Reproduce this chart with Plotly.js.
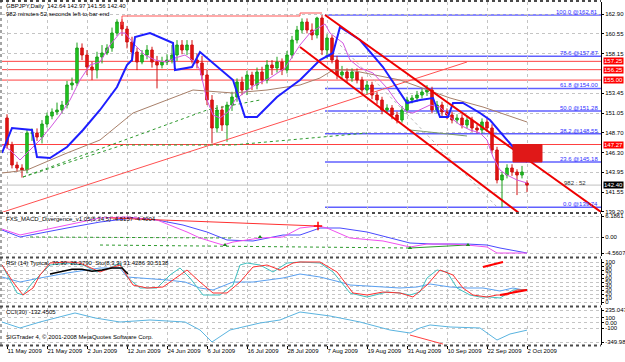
<!DOCTYPE html>
<html><head><meta charset="utf-8">
<script src="https://cdn.plot.ly/plotly-3.0.1.min.js"></script>
<style>html,body{margin:0;padding:0;background:#fff;}#chart{width:625px;height:362px;}</style>
</head><body><div id="chart"></div>
<script>
// ---------- DATA ----------
const dateLabels = ['11 May 2009','21 May 2009','2 Jun 2009','12 Jun 2009','24 Jun 2009','6 Jul 2009','16 Jul 2009','28 Jul 2009','7 Aug 2009','19 Aug 2009','31 Aug 2009','10 Sep 2009','22 Sep 2009','2 Oct 2009'];
const labelBars = [0,8,16,24,32,40,48,56,64,72,80,88,96,104];

const open = [150.45,147.21,144.81,144.45,144.21,148.65,148.65,148.17,149.73,150.69,
151.17,151.41,152.01,154.41,154.65,158.85,158.01,156.57,156.21,157.77,
158.25,158.85,160.65,161.97,161.13,159.57,158.37,157.17,158.01,158.61,
157.17,156.81,157.17,157.41,158.01,159.21,158.61,159.21,157.41,157.05,
155.61,152.61,149.25,151.41,149.61,152.01,152.97,154.77,153.81,155.61,
154.41,155.97,155.01,156.81,156.45,157.17,156.21,158.01,159.81,161.01,
161.97,161.01,160.41,162.45,158.61,160.05,157.41,155.61,155.97,155.25,
155.97,155.01,153.81,154.41,153.21,152.61,151.41,151.65,150.81,150.21,
151.41,152.61,152.85,153.21,153.57,153.81,151.41,152.01,151.17,150.81,
150.21,150.45,149.61,150.21,149.25,149.01,149.97,149.25,146.61,143.01,
143.61,144.45,143.97,143.61,142.64];
const high = [150.9,147.6,145.2,144.9,149.1,149.2,149.2,150.2,151.1,151.6,
152.3,152.5,154.9,155.3,159.5,159.4,158.6,157.2,158.4,159.2,
159.3,161.3,162.3,162.3,161.5,160.2,158.9,158.6,159.2,159.0,
157.9,157.8,158.1,159.2,159.8,159.8,159.8,159.8,158.2,157.9,
156.2,153.2,152.0,151.9,152.4,153.6,155.2,155.4,156.1,156.0,
156.5,156.6,157.4,157.4,157.8,157.6,158.5,160.3,161.5,162.4,
162.4,161.8,162.6,162.81,160.5,160.4,157.9,156.7,156.4,156.4,
156.4,155.4,154.9,154.8,153.6,153.0,152.1,152.0,151.2,151.9,
153.0,153.2,153.7,154.0,154.4,154.2,152.5,152.4,151.6,151.2,
150.9,150.9,150.6,150.6,149.7,150.4,150.4,149.7,147.0,144.0,
144.9,144.9,144.3,144.7,142.97];
const low = [146.8,144.4,144.0,143.3,143.8,147.7,147.7,147.4,149.3,150.3,
150.8,151.0,151.6,153.8,154.3,157.4,155.6,155.0,155.2,157.0,
158.0,158.4,160.3,160.3,158.8,157.2,156.2,156.9,157.5,156.5,
154.0,156.4,156.8,157.0,157.3,158.1,158.0,157.0,156.4,155.0,
152.0,147.4,148.7,148.9,147.6,151.3,152.4,153.2,153.2,153.8,
153.9,154.5,154.6,155.6,155.9,155.6,155.8,157.6,159.4,160.6,
160.6,159.8,160.0,158.0,157.6,157.0,155.1,155.2,154.7,154.8,
154.6,153.3,153.3,152.7,152.1,150.9,151.0,150.3,149.8,149.9,
151.0,152.2,152.4,152.8,153.1,151.0,151.0,150.7,150.3,149.8,
149.8,149.2,149.2,148.8,148.6,148.6,148.8,146.2,142.6,139.74,
143.2,143.5,141.2,143.2,141.56];
const close = [147.21,144.81,144.45,144.21,148.65,148.65,148.17,149.73,150.69,151.17,
151.41,152.01,154.41,154.65,158.85,158.01,156.57,156.21,157.77,158.25,
158.85,160.65,161.97,161.13,159.57,158.37,157.17,158.01,158.61,157.17,
156.81,157.17,157.41,158.01,159.21,158.61,159.21,157.41,157.05,155.61,
152.61,149.25,151.41,149.61,152.01,152.97,154.77,153.81,155.61,154.41,
155.97,155.01,156.81,156.45,157.17,156.21,158.01,159.81,161.01,161.97,
161.01,160.41,162.45,158.61,160.05,157.41,155.61,155.97,155.25,155.97,
155.01,153.81,154.41,153.21,152.61,151.41,151.65,150.81,150.21,151.41,
152.61,152.85,153.21,153.57,153.81,151.41,152.01,151.17,150.81,150.21,
150.45,149.61,150.21,149.25,149.01,149.97,149.25,146.61,143.01,143.61,
144.45,143.97,143.61,143.97,142.40];

// blue thick indicator line (bar, price)
const blueX = [-1,1,5,6,8.6,12,15.2,18.6,22,24,25,25.6,28.6,32,33.2,33.6,37,38.6,45.2,47.6,50,54,58.6,62.6,65.2,66.6,70.6,75.2,80,82.6,85.2,86.6,88.2,89.2,91.2,94.6,96.6,101.2,104];
const blueY = [146.25,149.25,149.01,145.77,145.65,146.97,149.01,151.41,154.17,156.81,157.41,160.17,160.65,159.81,159.45,156.21,156.57,158.37,155.01,150.57,150.57,152.97,155.01,157.41,158.25,161.37,159.81,156.57,152.25,152.61,152.85,150.57,150.57,152.25,152.25,151.05,150.21,146.97,145.17];
// magenta fast MA
const magX = [-1,0.6,2.6,4.6,6.6,8.6,10.6,12.6,14.6,16.6,18.6,20.6,22.6,23.6,25.6,27.6,29.6,31.6,33.6,35.6,37.6,38.6,40,41.2,42.6,44.2,45.6,47.6,49.6,52.6,55.6,58.6,60.6,62.2,63.6,64.6,67.2,68.6,70.6,73.2,76,78,80,81.2,82.6,84.6,86.6,88.6,90.6,92.6,94.6,96,97.2,98.6,100,102,104];
const magY = [147.21,146.61,145.41,146.61,147.81,149.25,150.81,152.61,155.01,156.81,157.17,159.21,160.65,160.65,159.21,158.01,157.41,157.17,157.65,158.01,157.17,156.21,152.61,150.81,150.45,151.17,152.61,153.57,154.41,155.25,156.45,159.21,160.65,161.25,161.73,160.65,159.45,157.41,156.45,155.85,154.05,152.37,151.17,151.05,151.41,152.01,151.77,150.57,149.61,149.01,148.65,147.81,145.77,144.21,143.61,143.01,142.65];
// brown slow MA
const brownX = [-1,4,12,18.6,25.2,32,37.2,45.2,52,58.6,62.6,65.2,68.6,78.6,88.6,95.2,104];
const brownY = [143.85,144.21,146.25,147.81,151.05,152.61,153.81,153.45,153.81,154.41,155.25,156.21,156.21,155.01,152.85,151.77,149.97];

// fibonacci retracement
const fibLevels = [100.0, 78.6, 61.8, 50.0, 38.2, 23.6, 0.0];
const fibPrices = [162.81, 157.87, 154.00, 151.28, 148.55, 145.18, 139.74];
const fibStartBar = 63.6;
// horizontal levels
const redLevels = [157.25, 156.25, 155.00, 147.27];
const bidPrice = 142.40;
// trend lines (bar, price pairs)
const trendUpX = [-1.4, 92];      const trendUpY = [139.05, 157.17];
const chanTopX = [63.6, 118.8];   const chanTopY = [162.81, 139.17];
const chanLowX = [58.6, 102.4];   const chanLowY = [158.97, 139.05];
const stepX = [23, 23, 58.6, 58.6, 63];   const stepY = [161.61, 162.69, 162.69, 163.05, 163.05];
const greenAX = [3.2, 23.2, 45.2, 62.6, 72]; const greenAY = [143.37, 147.21, 147.21, 148.17, 148.65];
const greenBX = [3.2, 40, 50.6];  const greenBY = [143.37, 151.41, 152.61];
const greenCX = [80.6, 92];       const greenCY = [149.01, 148.29];
const medianX = [66.6, 98];       const medianY = [159.21, 139.77];
const zoneBars = [101.2, 107];    const zonePrices = [145.18, 147.27];

// MACD pane
const macdBlueX = [-1,2.6,12,18.6,25.2,30,35.2,40,44,49.2,55.2,58.6,62.6,66.6,72,78.6,80.6,85.2,92,96,98.6,104];
const macdBlueY = [2.12,0.09,2.70,4.44,5.61,5.03,3.57,1.54,-0.78,-1.07,0.67,0.67,2.70,2.70,1.54,-0.78,-1.66,-1.95,-1.95,-2.24,-3.11,-4.56];
const macdMagX = [-1,2.6,12,18.6,24,30,36,38.6,41.2,43.2,45.2,50.6,55.2,58.6,62.2,64,68.6,75.2,80.6,84,88.6,92,96,98,104];
const macdMagY = [2.41,0.67,3.57,5.61,5.90,5.03,1.54,-0.20,-1.37,-2.24,-1.37,-0.20,0.09,2.70,3.28,2.70,-0.20,-1.07,-2.82,-1.95,-1.95,-2.24,-2.82,-4.56,-4.56];
const macdRedX = [20.6, 62.2];   const macdRedY = [5.61, 3.28];
const macdG1X = [4.6, 45.2];     const macdG1Y = [0.09, -0.20];
const macdG2X = [18.6, 80.6];    const macdG2Y = [-2.24, -3.11];
const macdG3X = [80.6, 92];      const macdG3Y = [-3.11, -2.24];
const upArrowX = [43.6, 50.6, 80.6, 92.2]; const upArrowY = [-2.24, 0.09, -3.11, -2.24];
const dnArrowX = [62.2];         const dnArrowY = [3.28];

// RSI / Stochastic pane
const rsiX = [-1,2.6,6.6,12,18.6,22.6,24,27.2,32,35.6,38.6,41.2,45.2,49.2,55.2,58.6,62.6,66.6,68.6,72,75.2,78.6,82,84.6,88.6,92,95.2,98.6,101.2,104];
const rsiY = [62.5,50,60,72.5,85,85,62.5,60,55,50,35,30,50,50,60,70,62.5,50,42.5,40,37.5,35,37.5,45,37.5,35,35,27.5,35,28.3];
const stoMainX = [-1,2,3.2,5.2,8.6,12,15.2,18,20.6,22.6,24.2,26.6,30,32.6,34.6,36.6,39.2,42.6,45.2,46.6,48,50.6,53.2,56,58.6,62.6,65.2,67.2,68.6,72,76,78.6,80.6,82.6,84,86,88,90,92.6,94.6,96.6,98.6,101.2,104];
const stoMainY = [92.5,22.5,17.5,50,92.5,97.5,92.5,75,85,97.5,60,35,35,67.5,85,60,17.5,17.5,42.5,92.5,97.5,92.5,75,97.5,100,97.5,75,42.5,22.5,12.5,25,22.5,17.5,25,60,80,75,35,17.5,12.5,12.5,10,30,31.4];
const stoSigX = [-1,1.2,3.2,5.2,6.6,8.6,12,14.6,18.6,20.6,22.6,25.2,28,31.2,34.6,36,38.6,41.2,44,46.6,49.2,52,54.6,57.2,58.6,62.6,66,69.2,72,75.2,78.6,81.2,84,86.6,89.2,91.2,93.2,96,98,100,102,104];
const stoSigY = [92.5,50,17.5,35,67.5,97.5,100,97.5,75,85,92.5,42.5,35,37.5,67.5,80,50,22.5,22.5,50,87.5,92.5,80,97.5,100,100,75,22.5,17.5,25,22.5,12.5,42.5,80,67.5,35,17.5,12.5,17.5,17.5,30,30.5];
const stoBlackX = [8.6,13,15,17,19,21,23,24.2];
const stoBlackY = [70,82,82,77,80,85,85,70];
const rsiDiv1X = [95.2, 99.2];  const rsiDiv1Y = [87.5, 100];
const rsiDiv2X = [98.6, 104];   const rsiDiv2Y = [17.5, 30];

// CCI pane
const cciX = [-1,2.6,6.6,13.6,17.6,22.6,28.6,35.6,38.6,41,44.6,50.6,54.6,58.6,64.6,70.6,76.6,80.6,82.6,84.6,88.6,94.6,98,100.6,104];
const cciY = [16,-93,16,181,90,16,53,16,-130,-349,-130,-2,53,199,126,16,-130,-185,-93,-38,-75,-93,-313,-203,-132.45];
const cciDivX = [80.6, 87.2];   const cciDivY = [-222, -387];

const mainTicks = [162.90,160.55,158.15,153.45,151.05,148.70,146.30,143.95,141.55,139.20];
const macdTicks = [6.1861, 0, -4.5607];
const macdTickText = ['6.1861','0.00','-4.5607'];
const rsiTicks = [0,10,20,30,40,50,60,70,80,90,100];
const cciTicks = [235.047, 100, 0, -100, -349.988];
const cciTickText = ['235.047','100','0.00','-100','-349.988'];

// ---------- PLOT ----------
const FONT = 'Liberation Sans, Arial, sans-serif';
const W = 625, H = 362, L = 2, R = 24, T = 2, B = 17;
const fx = px => (px - L) / (W - L - R);
const fy = py => (H - B - py) / (H - T - B);
const bars = close.map((_, i) => i);

function line(x, y, yaxis, color, width, dash, extra) {
  return Object.assign({type:'scatter', mode:'lines', x, y, yaxis, xaxis:'x', hoverinfo:'skip',
    line:{color, width, dash: dash || 'solid'}}, extra || {});
}

const traces = [
  line(trendUpX, trendUpY, 'y', '#ff5050', 1),
  line(greenAX, greenAY, 'y', '#2e9a2e', 1, 'dot'),
  line(greenBX, greenBY, 'y', '#2e9a2e', 1, 'dot'),
  line(greenCX, greenCY, 'y', '#7a9a6a', 1),
  line(medianX, medianY, 'y', '#b8b8b8', 1, 'dot'),
  line(brownX, brownY, 'y', '#a8806a', 1),
  {type:'candlestick', x:bars, open, high, low, close, xaxis:'x', yaxis:'y', hoverinfo:'skip',
    increasing:{line:{color:'#1aa01a', width:1}, fillcolor:'#22cc22'},
    decreasing:{line:{color:'#d01010', width:1}, fillcolor:'#e41414'}, whiskerwidth:0},
  line(magX, magY, 'y', '#d257e0', 1),
  line(blueX, blueY, 'y', '#1e1eff', 2),
  line(stepX, stepY, 'y', '#ff5555', 1),
  line(chanTopX, chanTopY, 'y', '#ee0000', 2),
  line(chanLowX, chanLowY, 'y', '#ee0000', 2),
  // MACD
  line(macdG1X, macdG1Y, 'y2', '#2e9a2e', 1, 'dot'),
  line(macdG2X, macdG2Y, 'y2', '#2e9a2e', 1, 'dot'),
  line(macdG3X, macdG3Y, 'y2', '#2e9a2e', 1),
  line(macdBlueX, macdBlueY, 'y2', '#4a4aff', 1),
  line(macdMagX, macdMagY, 'y2', '#f050f0', 1),
  line(macdRedX, macdRedY, 'y2', '#ff3030', 1),
  {type:'scatter', mode:'markers', x:upArrowX, y:upArrowY, xaxis:'x', yaxis:'y2', hoverinfo:'skip',
    marker:{symbol:'triangle-up', size:4, color:'#1a8a1a'}},
  {type:'scatter', mode:'markers', x:dnArrowX, y:dnArrowY, xaxis:'x', yaxis:'y2', hoverinfo:'skip',
    marker:{symbol:'cross-thin', size:6, line:{color:'#ff0000', width:1.5}}},
  // RSI
  line(rsiX, rsiY, 'y3', '#5aa0f0', 1),
  line(stoMainX, stoMainY, 'y3', '#40c0c0', 1),
  line(stoSigX, stoSigY, 'y3', '#ff3030', 1),
  line(stoBlackX, stoBlackY, 'y3', '#000000', 1.5),
  line(rsiDiv1X, rsiDiv1Y, 'y3', '#ff0000', 2),
  line(rsiDiv2X, rsiDiv2Y, 'y3', '#ff0000', 2),
  // CCI
  line(cciX, cciY, 'y4', '#5ab4e0', 1),
  line(cciDivX, cciDivY, 'y4', '#ff4040', 1),
];

const shapes = [];
redLevels.forEach(p => shapes.push({type:'line', xref:'paper', yref:'y', x0:0, x1:1, y0:p, y1:p, line:{color:'#ff4040', width:1}, layer:'below'}));
shapes.push({type:'line', xref:'paper', yref:'y', x0:0, x1:1, y0:bidPrice, y1:bidPrice, line:{color:'#c0c0c0', width:1}, layer:'below'});
fibPrices.forEach(p => shapes.push({type:'line', xref:'x', yref:'y', x0:fibStartBar, x1:118.8, y0:p, y1:p, line:{color:'#6060ff', width:1.5}, layer:'below'}));
shapes.push({type:'rect', xref:'x', yref:'y', x0:zoneBars[0], x1:zoneBars[1], y0:zonePrices[0], y1:zonePrices[1], fillcolor:'#e01818', line:{color:'#e01818', width:1}});
// pane borders
[213, 257.5, 306.5, 345.5, 1].forEach(py => shapes.push({type:'line', xref:'paper', yref:'paper', x0:fx(0), x1:1, y0:fy(py), y1:fy(py), line:{color:'#4a4a4a', width:2, dash:'dot'}}));
shapes.push({type:'line', xref:'paper', yref:'paper', x0:fx(1), x1:fx(1), y0:fy(345), y1:fy(1), line:{color:'#4a4a4a', width:1, dash:'dot'}});

const ann = [];
function txt(px, py, text, opts) {
  ann.push(Object.assign({xref:'paper', yref:'paper', x:fx(px), y:fy(py), text, showarrow:false, xanchor:'left', yanchor:'middle', font:{family:FONT, size:6, color:'#000'}}, opts || {}));
}
txt(4, 6, 'GBPJPY,Daily  142.64 142.97 141.56 142.40');
txt(4, 14, '982 minutes 52 seconds left to bar end');
txt(4, 219, 'FXS_MACD_Divergence_v1.05(5,34,5) -4.5157 -4.4004');
txt(4, 263, 'RSI (14) Typical, 70,30: 28.2790  Sto(8,3,3) 31.4286 30.5138');
txt(4, 312, 'CCI(30) -132.4505');
txt(4, 337, 'SIGTrader 4, © 2001-2008 MetaQuotes Software Corp.');
// fib labels
fibLevels.forEach((lv, i) => ann.push({xref:'paper', yref:'y', x:1, xshift:-1, y:fibPrices[i], text:lv.toFixed(1) + ' @' + fibPrices[i].toFixed(2), showarrow:false, xanchor:'right', yanchor:'bottom', yshift:-2, font:{family:FONT, size:6, color:'#3030ff'}}));
// price boxes
redLevels.forEach(p => ann.push({xref:'paper', yref:'y', x:1, xshift:2, y:p, text:p.toFixed(2), showarrow:false, xanchor:'left', yanchor:'middle', bgcolor:'#ff0000', borderpad:0, font:{family:FONT, size:6, color:'#fff'}}));
ann.push({xref:'paper', yref:'y', x:1, xshift:2, y:bidPrice, text:bidPrice.toFixed(2), showarrow:false, xanchor:'left', yanchor:'middle', bgcolor:'#000', borderpad:0, font:{family:FONT, size:6, color:'#fff'}});
ann.push({xref:'x', yref:'y', x:111, y:142.6, text:'982 : 52', showarrow:false, xanchor:'left', yanchor:'middle', font:{family:FONT, size:6, color:'#303030'}});

const grid = {showgrid:true, gridcolor:'#c4c4c4', griddash:'dot', gridwidth:1, zeroline:false};
const yax = (domain, range, tickvals, ticktext) => Object.assign({domain, range, tickvals, ticktext, side:'right', anchor:'x', ticks:'outside', ticklen:2, tickcolor:'#000', showline:true, linecolor:'#000', linewidth:1, tickfont:{family:FONT, size:6, color:'#000'}, fixedrange:true}, grid);

const layout = {
  width:W, height:H, margin:{l:L, r:R, t:T, b:B},
  paper_bgcolor:'#fff', plot_bgcolor:'#fff', showlegend:false,
  font:{family:FONT, size:6, color:'#000'},
  xaxis: Object.assign({domain:[0,1], anchor:'y4', range:[-1,118.8], tickvals:labelBars, ticktext:dateLabels,
    tickangle:0, ticklabelposition:'outside right', ticks:'outside', ticklen:3, tickcolor:'#000', showline:false,
    tickfont:{family:FONT, size:6, color:'#000'}, rangeslider:{visible:false}, fixedrange:true}, grid),
  yaxis: yax([fy(212), 1], [139.17, 164.37], mainTicks, mainTicks.map(v => v.toFixed(2))),
  yaxis2: yax([fy(256), fy(214)], [-5.43, 6.77], macdTicks, macdTickText),
  yaxis3: yax([fy(305), fy(259)], [-7.5, 107.5], rsiTicks, rsiTicks.map(String)),
  yaxis4: yax([0, fy(308)], [-404, 272], cciTicks, cciTickText),
  shapes, annotations: ann
};
Plotly.newPlot('chart', traces, layout, {staticPlot:true, displayModeBar:false});
</script>
</body></html>
